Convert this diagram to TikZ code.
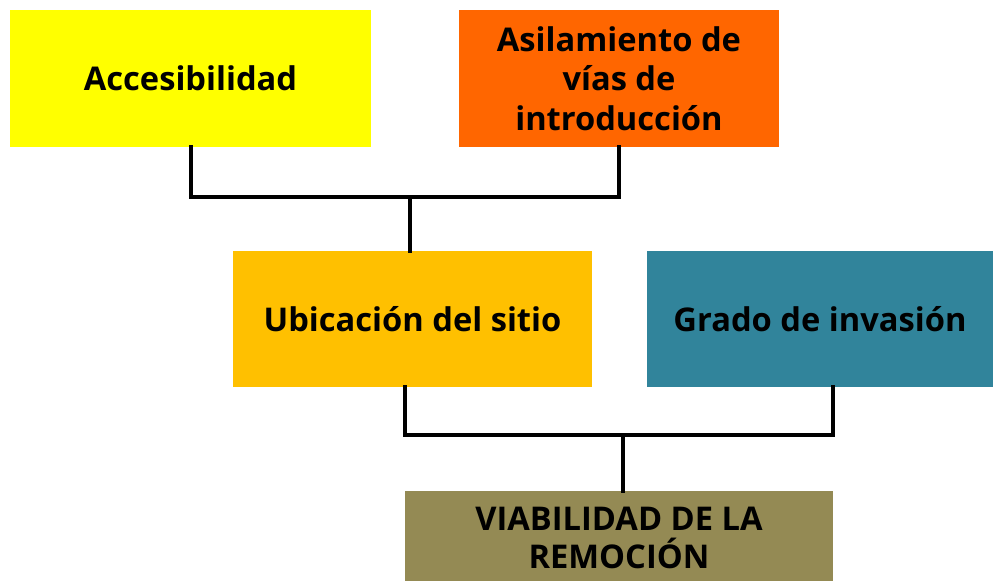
\documentclass[tikz,border=0pt]{standalone}
\usepackage{fontspec}
\setmainfont{Open Sans}
\begin{document}
\begin{tikzpicture}[x=0.75pt,y=-0.75pt,
  box/.style={draw=none,inner sep=0pt,align=center,font=\bfseries\fontsize{24.5pt}{29.6pt}\selectfont,text=black},
  conn/.style={line width=3pt,line cap=rect,line join=miter}]
\useasboundingbox (0,0) rectangle (993,581);
\begin{scope}
\clip (0,0) rectangle (993,581);
\node[box,fill={rgb,255:red,255;green,255;blue,0},minimum width=361*0.75pt,minimum height=137*0.75pt] (acc) at (190.5,78.5) {Accesibilidad};
\node[box,fill={rgb,255:red,255;green,102;blue,0},minimum width=320*0.75pt,minimum height=137*0.75pt] (asil) at (619,78.5) {Asilamiento de\\vías de\\introducción};
\node[box,fill={rgb,255:red,255;green,192;blue,0},minimum width=359*0.75pt,minimum height=136*0.75pt] (ubic) at (412.5,319) {Ubicación del sitio};
\node[box,fill={rgb,255:red,49;green,132;blue,155},minimum width=346*0.75pt,minimum height=136*0.75pt] (grado) at (820,319) {Grado de invasión};
\node[box,fill={rgb,255:red,148;green,138;blue,84},minimum width=428*0.75pt,minimum height=110*0.75pt,anchor=north] (viab) at (619,491) {};
\node[box,text=black,font=\bfseries\fontsize{24.5pt}{28pt}\selectfont] (viabt) at (619,538) {VIABILIDAD DE LA\\REMOCIÓN};
\end{scope}
\coordinate (j1) at (410,197);
\coordinate (j2) at (623,435);
\draw[conn] (acc.south) |- (j1) -| (asil.south);
\draw[conn] (j1) -- (ubic.north -| j1);
\draw[conn] (ubic.south -| 405,0) |- (j2) -| (grado.south -| 833,0);
\draw[conn] (j2) -- (viab.north -| j2);
\end{tikzpicture}
\end{document}
